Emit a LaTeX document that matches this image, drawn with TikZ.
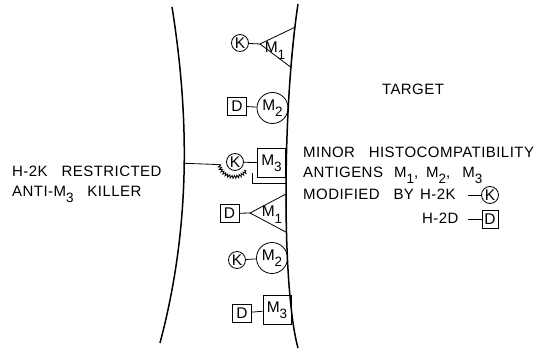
\documentclass[tikz,border=0pt]{standalone}
\usepackage{fontspec}
\setmainfont{Liberation Sans}[LetterSpace=3, WordSpace=3]
\usetikzlibrary{decorations.pathmorphing}

\newcommand{\Mn}[1]{M\raisebox{-0.4em}{\fontsize{13.5}{13.5}\selectfont #1}}

\begin{document}
\begin{tikzpicture}[
  x=1pt, y=-1pt,
  memb/.style={line width=1.5pt},
  bond/.style={line width=0.8pt},
  kmol/.style={draw, circle, line width=0.8pt, inner sep=0pt, minimum size=17pt,
               font=\fontsize{15.5}{15.5}\selectfont},
  dmol/.style={draw, line width=0.8pt, inner sep=0pt, minimum width=19pt, minimum height=18pt,
               font=\fontsize{15.5}{15.5}\selectfont},
  mcirc/.style={draw, circle, line width=0.8pt, inner sep=0pt, minimum size=31pt,
                font=\fontsize{15.5}{15.5}\selectfont},
  mbox/.style={draw, line width=0.8pt, inner sep=0pt, minimum width=28pt, minimum height=29pt,
               font=\fontsize{15.5}{15.5}\selectfont},
  mtri/.style={draw, line width=0.8pt},
  mlab/.style={font=\fontsize{15.5}{15.5}\selectfont, inner sep=0pt, anchor=base},
  txt/.style={font=\fontsize{15}{17}\selectfont, inner sep=0pt, anchor=base west},
  teeth/.style={decorate, decoration={zigzag, segment length=2.6pt, amplitude=1.5pt},
                line width=0.8pt}
]
\useasboundingbox (0,0) rectangle (536,352);

% ---------------- the two membranes ----------------
\draw[memb] (172,7) .. controls (190,120) and (190,230) .. (160,343)
  coordinate[pos=0.465] (arm);
\draw[memb] (298,4) .. controls (282,110) and (282,290) .. (298,348)
  coordinate[pos=0.07] (t1a) coordinate[pos=0.18] (t1b)
  coordinate[pos=0.472] (recR)
  coordinate[pos=0.5] (t2a) coordinate[pos=0.6] (t2b);

% ---------------- antigens on the target ----------------
\node[kmol] (k1) at (240,43) {K};
\coordinate (a1) at (260,44);
\draw[mtri] (a1) -- (t1a) -- (t1b) -- cycle;
\node[mlab] (m1top) at (275,53) {\Mn{1}};
\draw[bond] (k1) -- (a1);

\node[dmol] (d1) at (237,106) {D};
\node[mcirc] (m2top) at (272.5,108) {\Mn{2}};
\draw[bond] (d1) -- (m2top);

\node[kmol] (k2) at (235,162) {K};
\node[mbox] (m3top) at (271.5,163) {\Mn{3}};
\draw[bond] (k2) -- (m3top);

\node[dmol] (d2) at (229.5,213.5) {D};
\coordinate (a2) at (250,213);
\draw[mtri] (a2) -- (t2a) -- (t2b) -- cycle;
\node[mlab] (m1low) at (272,217) {\Mn{1}};
\draw[bond] (d2) -- (a2);

\node[kmol] (k3) at (237,260) {K};
\node[mcirc] (m2low) at (272,258) {\Mn{2}};
\draw[bond] (k3) -- (m2low);

\node[dmol] (d3) at (242,313) {D};
\node[mbox] (m3low) at (277,310) {\Mn{3}};
\draw[bond] (d3) -- (m3low);

% ---------------- killer contact ----------------
\coordinate (grip) at (219.2,164.6);
\coordinate (rec) at (252,173);
\draw[bond] (arm) -- (grip);
\draw[teeth] (grip) arc[start angle=170, end angle=35, radius=15];
\draw[bond] (rec) |- (recR);

% ---------------- labels ----------------
\node[txt] (kill1) at (12,177) {H-2K RESTRICTED};
\node[txt] (kill2) at (12,197) {ANTI-\Mn{3} KILLER};
\node[txt, anchor=base] (target) at (413,95) {TARGET};

\node[txt] (key1) at (303,157.5) {MINOR HISTOCOMPATIBILITY};
\node[txt] (key2) at (303,177.5)
  {ANTIGENS\hspace{11pt}\Mn{1},\hspace{8pt}\Mn{2},\hspace{12pt}\Mn{3}};
\node[txt] (key3) at (303,200) {MODIFIED BY};
\node[txt] (keyK) at (420,200) {H-2K};
\node[txt] (keyD) at (422,223.5) {H-2D};
\node[kmol] (legK) at (490,195) {K};
\node[dmol, minimum width=16pt, minimum height=18pt] (legD) at (490,219) {D};
\coordinate (dashK) at (468,195);
\coordinate (dashD) at (468,219);
\draw[bond] (dashK) -- (legK);
\draw[bond] (dashD) -- (legD);

\end{tikzpicture}
\end{document}
